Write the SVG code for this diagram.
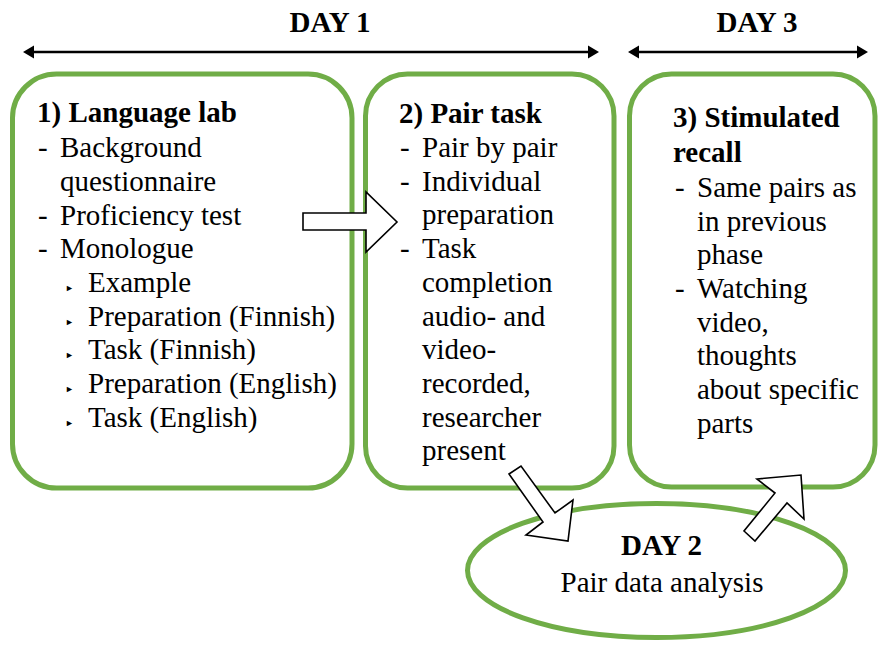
<svg xmlns="http://www.w3.org/2000/svg" width="879" height="645" viewBox="0 0 879 645">
<rect width="879" height="645" fill="#fff"/>
<g id="timeline">
<text font-family="Liberation Serif" font-size="29" font-weight="bold" x="330" y="32" text-anchor="middle">DAY 1</text>
<line stroke="#000" stroke-width="2.5" x1="31" y1="52" x2="591" y2="52"/>
<polygon points="23,52 34,45.5 34,58.5" fill="#000"/>
<polygon points="599,52 588,45.5 588,58.5" fill="#000"/>
<text font-family="Liberation Serif" font-size="29" font-weight="bold" x="757" y="32" text-anchor="middle">DAY 3</text>
<line stroke="#000" stroke-width="2.5" x1="636" y1="52" x2="860" y2="52"/>
<polygon points="628,52 639,45.5 639,58.5" fill="#000"/>
<polygon points="868,52 857,45.5 857,58.5" fill="#000"/>
</g>
<g id="node-language-lab">
<rect fill="#fff" stroke="#70AD47" stroke-width="5" x="12.5" y="74" width="339.5" height="414" rx="44" ry="44"/>
<text font-family="Liberation Serif" font-size="29" font-weight="bold" x="37" y="122">1) Language lab</text>
<text font-family="Liberation Serif" font-size="29" x="38" y="157">-</text>
<text font-family="Liberation Serif" font-size="29" x="60" y="157">Background</text>
<text font-family="Liberation Serif" font-size="29" x="60" y="191">questionnaire</text>
<text font-family="Liberation Serif" font-size="29" x="38" y="225">-</text>
<text font-family="Liberation Serif" font-size="29" x="60" y="225">Proficiency test</text>
<text font-family="Liberation Serif" font-size="29" x="38" y="258">-</text>
<text font-family="Liberation Serif" font-size="29" x="60" y="258">Monologue</text>
<text font-family="Liberation Serif" font-size="9" x="65" y="290.5">►</text>
<text font-family="Liberation Serif" font-size="29" x="88" y="292">Example</text>
<text font-family="Liberation Serif" font-size="9" x="65" y="324.5">►</text>
<text font-family="Liberation Serif" font-size="29" x="88" y="326">Preparation (Finnish)</text>
<text font-family="Liberation Serif" font-size="9" x="65" y="357.5">►</text>
<text font-family="Liberation Serif" font-size="29" x="88" y="359">Task (Finnish)</text>
<text font-family="Liberation Serif" font-size="9" x="65" y="391.5">►</text>
<text font-family="Liberation Serif" font-size="29" x="88" y="393">Preparation (English)</text>
<text font-family="Liberation Serif" font-size="9" x="65" y="425.5">►</text>
<text font-family="Liberation Serif" font-size="29" x="88" y="427">Task (English)</text>
</g>
<g id="node-pair-task">
<rect fill="#fff" stroke="#70AD47" stroke-width="5" x="365.5" y="74" width="248.5" height="414" rx="42" ry="42"/>
<text font-family="Liberation Serif" font-size="29" font-weight="bold" x="399" y="123">2) Pair task</text>
<text font-family="Liberation Serif" font-size="29" x="400" y="157">-</text>
<text font-family="Liberation Serif" font-size="29" x="422" y="157">Pair by pair</text>
<text font-family="Liberation Serif" font-size="29" x="400" y="190.5">-</text>
<text font-family="Liberation Serif" font-size="29" x="422" y="190.5">Individual</text>
<text font-family="Liberation Serif" font-size="29" x="422" y="224">preparation</text>
<text font-family="Liberation Serif" font-size="29" x="400" y="258">-</text>
<text font-family="Liberation Serif" font-size="29" x="422" y="258">Task</text>
<text font-family="Liberation Serif" font-size="29" x="422" y="292">completion</text>
<text font-family="Liberation Serif" font-size="29" x="422" y="325.5">audio- and</text>
<text font-family="Liberation Serif" font-size="29" x="422" y="359">video-</text>
<text font-family="Liberation Serif" font-size="29" x="422" y="393">recorded,</text>
<text font-family="Liberation Serif" font-size="29" x="422" y="427">researcher</text>
<text font-family="Liberation Serif" font-size="29" x="422" y="460">present</text>
</g>
<g id="node-stimulated-recall">
<rect fill="#fff" stroke="#70AD47" stroke-width="5" x="629.5" y="74" width="245.5" height="413" rx="42" ry="42"/>
<text font-family="Liberation Serif" font-size="29" font-weight="bold" x="673" y="127">3) Stimulated</text>
<text font-family="Liberation Serif" font-size="29" font-weight="bold" x="673" y="162">recall</text>
<text font-family="Liberation Serif" font-size="29" x="675" y="197">-</text>
<text font-family="Liberation Serif" font-size="29" x="697" y="197">Same pairs as</text>
<text font-family="Liberation Serif" font-size="29" x="697" y="230.5">in previous</text>
<text font-family="Liberation Serif" font-size="29" x="697" y="264">phase</text>
<text font-family="Liberation Serif" font-size="29" x="675" y="298">-</text>
<text font-family="Liberation Serif" font-size="29" x="697" y="298">Watching</text>
<text font-family="Liberation Serif" font-size="29" x="697" y="331.5">video,</text>
<text font-family="Liberation Serif" font-size="29" x="697" y="365">thoughts</text>
<text font-family="Liberation Serif" font-size="29" x="697" y="399">about specific</text>
<text font-family="Liberation Serif" font-size="29" x="697" y="433">parts</text>
</g>
<g id="node-day2">
<ellipse fill="#fff" stroke="#70AD47" stroke-width="5" cx="656.5" cy="570.5" rx="189" ry="67"/>
<text font-family="Liberation Serif" font-size="29" font-weight="bold" x="661.5" y="555" text-anchor="middle">DAY 2</text>
<text font-family="Liberation Serif" font-size="29" x="662" y="592" text-anchor="middle">Pair data analysis</text>
</g>
<g id="connectors" fill="#fff" stroke="#000" stroke-width="1.6">
<polygon points="303,213 366,213 366,192 397,222 366,252 366,230 303,230"/>
<polygon points="509,474 521,466 555,513 573,500 568,541 526,535 543,522"/>
<polygon points="744,531 755,541 787,503 804,519 801,475 757,479 775,493"/>
</g>
</svg>
